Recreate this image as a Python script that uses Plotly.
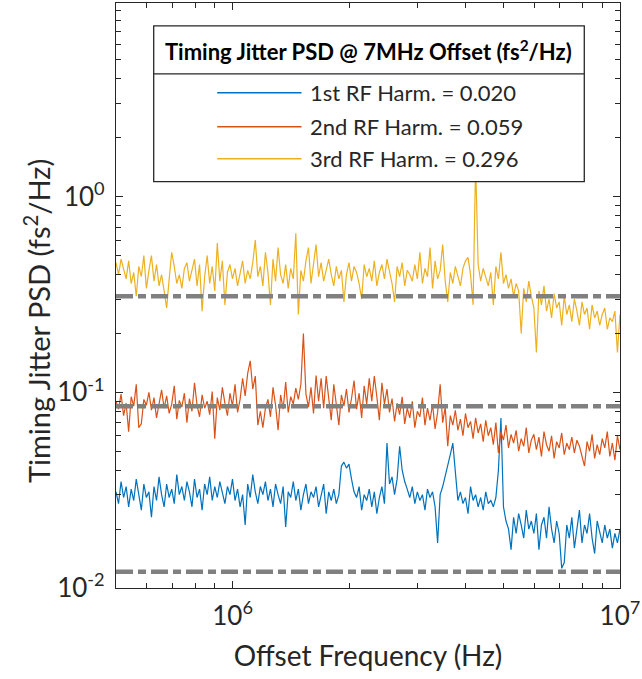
import numpy as np
import plotly.graph_objects as go

# ---------------- data ----------------
f_start_hz = 5e5
f_stop_hz = 1e7
n_points = 200
freq_hz = np.logspace(np.log10(f_start_hz), np.log10(f_stop_hz), n_points)

psd_3rd = [
    0.46, 0.40, 0.48, 0.43, 0.38, 0.47, 0.36, 0.41, 0.31, 0.44, 0.39, 0.50, 0.34, 0.42, 0.50, 0.37, 0.45, 0.35, 0.40, 0.33,
    0.27, 0.38, 0.52, 0.44, 0.36, 0.40, 0.34, 0.43, 0.46, 0.37, 0.42, 0.48, 0.35, 0.45, 0.26, 0.39, 0.50, 0.36, 0.44, 0.33,
    0.58, 0.37, 0.47, 0.28, 0.41, 0.45, 0.38, 0.43, 0.35, 0.40, 0.47, 0.36, 0.42, 0.38, 0.46, 0.60, 0.39, 0.44, 0.35, 0.52,
    0.41, 0.28, 0.48, 0.37, 0.55, 0.40, 0.36, 0.45, 0.34, 0.43, 0.38, 0.65, 0.25, 0.42, 0.37, 0.47, 0.55, 0.36, 0.44, 0.57,
    0.39, 0.46, 0.37, 0.43, 0.48, 0.40, 0.35, 0.44, 0.38, 0.42, 0.29, 0.40, 0.46, 0.37, 0.44, 0.41, 0.36, 0.30, 0.45, 0.39,
    0.43, 0.37, 0.47, 0.35, 0.41, 0.45, 0.38, 0.48, 0.42, 0.36, 0.29, 0.44, 0.39, 0.46, 0.35, 0.42, 0.40, 0.37, 0.45, 0.38,
    0.52, 0.36, 0.43, 0.39, 0.55, 0.34, 0.47, 0.38, 0.42, 0.57, 0.37, 0.29, 0.41, 0.36, 0.44, 0.39, 0.35, 0.43, 0.47, 0.49,
    0.40, 0.28, 1.50, 0.45, 0.37, 0.43, 0.39, 0.35, 0.41, 0.28, 0.44, 0.38, 0.52, 0.36, 0.40, 0.34, 0.38, 0.31, 0.36, 0.33,
    0.20, 0.34, 0.29, 0.37, 0.31, 0.27, 0.16, 0.33, 0.28, 0.35, 0.26, 0.30, 0.24, 0.32, 0.27, 0.29, 0.22, 0.31, 0.25, 0.28,
    0.23, 0.30, 0.26, 0.22, 0.29, 0.25, 0.27, 0.21, 0.28, 0.24, 0.26, 0.22, 0.25, 0.27, 0.21, 0.24, 0.23, 0.26, 0.16, 0.25,
]

psd_2nd = [
    0.090, 0.082, 0.098, 0.076, 0.088, 0.063, 0.095, 0.085, 0.110, 0.066, 0.069, 0.092, 0.086, 0.100, 0.081, 0.094, 0.074, 0.089, 0.103, 0.083,
    0.096, 0.078, 0.087, 0.108, 0.073, 0.091, 0.084, 0.099, 0.070, 0.093, 0.080, 0.112, 0.086, 0.075, 0.097, 0.083, 0.090, 0.077, 0.101, 0.058,
    0.094, 0.081, 0.106, 0.088, 0.076, 0.099, 0.085, 0.110, 0.079, 0.092, 0.118, 0.096, 0.125, 0.145, 0.104, 0.121, 0.068, 0.080, 0.066, 0.083,
    0.092, 0.075, 0.106, 0.086, 0.064, 0.097, 0.082, 0.113, 0.079, 0.095, 0.087, 0.105, 0.092, 0.110, 0.200, 0.098, 0.084, 0.106, 0.078, 0.122,
    0.090, 0.118, 0.083, 0.121, 0.095, 0.072, 0.110, 0.088, 0.068, 0.097, 0.085, 0.104, 0.079, 0.093, 0.115, 0.082, 0.099, 0.074, 0.108, 0.087,
    0.118, 0.090, 0.121, 0.095, 0.072, 0.112, 0.087, 0.104, 0.079, 0.093, 0.071, 0.088, 0.077, 0.095, 0.069, 0.083, 0.074, 0.090, 0.066, 0.080,
    0.075, 0.094, 0.068, 0.083, 0.072, 0.087, 0.065, 0.079, 0.110, 0.070, 0.084, 0.053, 0.076, 0.068, 0.081, 0.064, 0.073, 0.060, 0.078, 0.066,
    0.071, 0.058, 0.074, 0.062, 0.069, 0.056, 0.072, 0.060, 0.066, 0.054, 0.070, 0.049, 0.063, 0.057, 0.068, 0.052, 0.061, 0.055, 0.064, 0.050,
    0.058, 0.053, 0.066, 0.049, 0.057, 0.061, 0.051, 0.059, 0.047, 0.063, 0.054, 0.050, 0.060, 0.046, 0.056, 0.052, 0.062, 0.048, 0.055, 0.051,
    0.059, 0.049, 0.057, 0.053, 0.047, 0.042, 0.056, 0.050, 0.061, 0.046, 0.054, 0.048, 0.058, 0.052, 0.063, 0.047, 0.055, 0.045, 0.060, 0.051,
]

psd_1st = [
    0.031, 0.027, 0.035, 0.029, 0.033, 0.026, 0.032, 0.028, 0.036, 0.030, 0.025, 0.034, 0.029, 0.031, 0.023, 0.033, 0.028, 0.037, 0.030, 0.026,
    0.034, 0.029, 0.032, 0.027, 0.038, 0.030, 0.033, 0.028, 0.035, 0.031, 0.026, 0.036, 0.029, 0.032, 0.025, 0.034, 0.030, 0.037, 0.028, 0.033,
    0.029, 0.035, 0.031, 0.027, 0.033, 0.030, 0.036, 0.028, 0.032, 0.026, 0.030, 0.021, 0.034, 0.029, 0.038, 0.031, 0.027, 0.033, 0.030, 0.035,
    0.028, 0.032, 0.026, 0.034, 0.030, 0.027, 0.033, 0.0205, 0.031, 0.029, 0.035, 0.028, 0.032, 0.025, 0.030, 0.034, 0.027, 0.031, 0.029, 0.033,
    0.026, 0.030, 0.034, 0.024, 0.031, 0.028, 0.032, 0.027, 0.030, 0.042, 0.044, 0.041, 0.043, 0.036, 0.031, 0.029, 0.033, 0.025, 0.030, 0.028,
    0.032, 0.026, 0.031, 0.024, 0.029, 0.033, 0.027, 0.055, 0.034, 0.037, 0.030, 0.036, 0.053, 0.040, 0.035, 0.032, 0.029, 0.033, 0.027, 0.031,
    0.028, 0.030, 0.025, 0.032, 0.029, 0.031, 0.026, 0.017, 0.030, 0.033, 0.037, 0.042, 0.048, 0.055, 0.039, 0.028, 0.031, 0.027, 0.029, 0.024,
    0.033, 0.028, 0.030, 0.026, 0.029, 0.025, 0.031, 0.027, 0.028, 0.026, 0.029, 0.040, 0.074, 0.026, 0.022, 0.020, 0.0157, 0.023, 0.019, 0.024,
    0.021, 0.018, 0.025, 0.020, 0.022, 0.019, 0.024, 0.0157, 0.021, 0.023, 0.018, 0.026, 0.020, 0.017, 0.022, 0.019, 0.0126, 0.0135, 0.021, 0.018,
    0.023, 0.016, 0.020, 0.025, 0.017, 0.021, 0.019, 0.024, 0.018, 0.015, 0.022, 0.019, 0.017, 0.021, 0.018, 0.020, 0.016, 0.019, 0.017, 0.020,
]

series_labels = ["1st RF Harm. = 0.020", "2nd RF Harm. = 0.059", "3rd RF Harm. = 0.296"]
series_values = [psd_1st, psd_2nd, psd_3rd]
series_colors = ["#0072BD", "#D95319", "#EDB120"]
ref_levels = [0.0121, 0.085, 0.31]

legend_title = "<b>Timing Jitter PSD @ 7MHz Offset (fs<sup>2</sup>/Hz)</b>"
x_title = "Offset Frequency (Hz)"
y_title = "Timing Jitter PSD (fs<sup>2</sup>/Hz)"
x_tickvals = [1e6, 1e7]
x_ticktext = ["10<sup>6</sup>", "10<sup>7</sup>"]
y_tickvals = [0.01, 0.1, 1]
y_ticktext = ["10<sup>-2</sup>", "10<sup>-1</sup>", "10<sup>0</sup>"]

# ---------------- figure ----------------
W, H = 642, 679
L, R, T, B = 116, 624, 2, 588
FONT = "Lato, 'Open Sans', sans-serif"
TXT = "#262626"


def px(x):
    return (x - L) / (R - L)


def py(y):
    return (B - y) / (B - T)


fig = go.Figure()
for vals, col, lab in zip(series_values, series_colors, series_labels):
    fig.add_trace(go.Scatter(x=freq_hz, y=vals, mode="lines", name=lab,
                             line=dict(color=col, width=1.2), showlegend=False))

for lvl in ref_levels:
    fig.add_trace(go.Scatter(x=[f_start_hz, f_stop_hz], y=[lvl, lvl], mode="lines",
                             line=dict(color="#808080", width=4.5, dash="17px,5px,8px,5px"),
                             showlegend=False, hoverinfo="skip"))

minor_x = [6e5, 7e5, 8e5, 9e5] + [k * 1e6 for k in range(2, 10)]
minor_y = [k * 1e-2 for k in range(2, 10)] + [k * 1e-1 for k in range(2, 10)] + [k * 1.0 for k in range(2, 10)]

axis_common = dict(
    type="log", showgrid=False, zeroline=False, showline=True, linecolor=TXT, linewidth=1.3,
    mirror="allticks", ticks="inside", ticklen=7, tickwidth=1, tickcolor=TXT,
    tickfont=dict(family=FONT, size=26, color=TXT), ticklabeloverflow="allow",
)

fig.update_xaxes(**axis_common, range=[np.log10(f_start_hz), np.log10(f_stop_hz) + 1e-4],
                 tickmode="array", tickvals=x_tickvals, ticktext=x_ticktext, ticklabelstandoff=5,
                 minor=dict(tickmode="array", tickvals=minor_x, ticks="inside", ticklen=4.5, tickcolor=TXT),
                 title=dict(text=x_title, font=dict(family=FONT, size=28, color=TXT), standoff=16))
fig.update_yaxes(**axis_common, range=[-2, 0.99],
                 tickmode="array", tickvals=y_tickvals, ticktext=y_ticktext, ticklabelstandoff=5,
                 minor=dict(tickmode="array", tickvals=minor_y, ticks="inside", ticklen=4.5, tickcolor=TXT))

# legend box (drawn manually)
shapes = [
    dict(type="rect", xref="paper", yref="paper", x0=px(154), x1=px(588), y0=py(181), y1=py(25),
         fillcolor="white", line=dict(color=TXT, width=1.3), layer="above"),
    dict(type="line", xref="paper", yref="paper", x0=px(154), x1=px(588), y0=py(73), y1=py(73),
         line=dict(color=TXT, width=1.3), layer="above"),
]
annotations = [
    dict(text=legend_title, xref="paper", yref="paper", x=px(370), y=py(50), xanchor="center", yanchor="middle",
         showarrow=False, font=dict(family=FONT, size=22, color="black")),
    dict(text=y_title, xref="paper", yref="paper", x=px(37), y=py(321), xanchor="center", yanchor="middle",
         textangle=-90, showarrow=False, font=dict(family=FONT, size=29, color=TXT)),
]
entry_y = [92, 126, 158]
for lab, col, ey in zip(series_labels, series_colors, entry_y):
    shapes.append(dict(type="line", xref="paper", yref="paper", x0=px(218), x1=px(303), y0=py(ey), y1=py(ey),
                       line=dict(color=col, width=1.5), layer="above"))
    annotations.append(dict(text=lab, xref="paper", yref="paper", x=px(310), y=py(ey), xanchor="left",
                            yanchor="middle", showarrow=False, font=dict(family=FONT, size=22, color=TXT)))

fig.update_layout(
    width=W, height=H, margin=dict(l=L, r=W - R, t=T, b=H - B),
    paper_bgcolor="white", plot_bgcolor="white",
    shapes=shapes, annotations=annotations, showlegend=False,
)

fig.write_html("out.html")
